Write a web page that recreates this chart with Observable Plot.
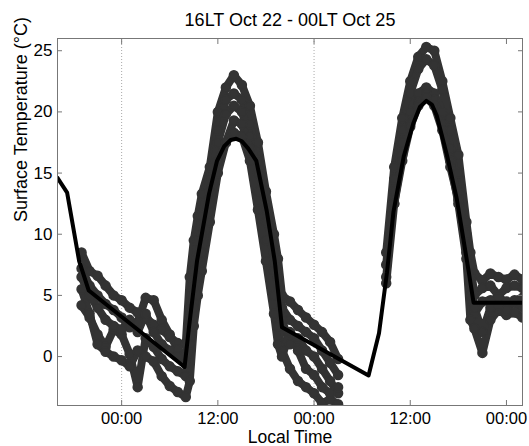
<!DOCTYPE html>
<html><head><meta charset="utf-8">
<script src="https://cdn.jsdelivr.net/npm/d3@7"></script>
<script src="https://cdn.jsdelivr.net/npm/@observablehq/plot@0.6"></script>
<style>
html,body{margin:0;padding:0;background:#fff;}
#chart svg{display:block;}
</style></head><body><div id="chart"></div>
<script>
const title = "16LT Oct 22 - 00LT Oct 25";
const xLabel = "Local Time";
const yLabel = "Surface Temperature (°C)";
const xTicks = [0, 12, 24, 36, 48];
const xTickLabels = ["00:00", "12:00", "00:00", "12:00", "00:00"];
const yTicks = [0, 5, 10, 15, 20, 25];
const midnightGrid = [0, 24];

// model (black line): hours relative to 00LT Oct 23
const modelHours = [-8, -6.8, -5.3, -4.1, 7.85, 8.4, 9.4, 10.9, 11.9, 12.8, 13.6, 14.3, 15.0, 15.8, 16.8, 18.1, 19.1, 20.0, 30.8, 32.1, 33.1, 33.9, 35.2, 36.4, 37.2, 38.0, 38.7, 39.3, 40.6, 41.8, 42.9, 43.3, 43.9, 50];
const modelTemp  = [14.6, 13.4, 7.8, 5.4, -0.85, 2.4, 7.8, 13.3, 16.0, 17.2, 17.7, 17.8, 17.6, 17.0, 16.0, 11.9, 7.8, 2.4, -1.55, 1.9, 6.9, 11.8, 16.4, 19.1, 20.4, 20.9, 20.6, 19.7, 16.4, 12.9, 8.5, 6.9, 4.4, 4.4];

// observations (gray markers), several stations
const obsHours = [-5,-4,-3,-2,-1,0,1,2,3,4,5,6,7,8,8.5,9,9.5,10,11,12,13,14,15,16,17,18,19,19.5,20,21,22,23,24,25,26,27,30,33,34,35,36,37,38,39,40,41,42,43,43.5,44,45,46,47,48,49,50];
const stationA = [8.5,7.0,6.6,5.8,5.0,4.6,4.0,3.6,3.2,2.6,2.2,1.6,1.1,1.0, 6.5,9.5,11.5,13.3,15.5,20.0,22.0,23.0,22.2,20.5,17.5,13.5,10.0,8.0,5.0, 4.5,3.8,3.2,2.6,2.0,1.2,-0.2, null, 8.5,15.5,19.5,22.5,24.5,25.3,25.0,22.5,19.5,16.5,11.0, 8.5, 6.8,6.2,6.8,6.5,6.3,6.7,6.3];
const stationB = [7.2,5.8,5.0,4.3,3.8,3.2,2.4,2.8,4.8,4.6,3.0,1.8,0.6,-0.4, 4.0,7.0,9.5,11.5,14.5,18.5,21.0,21.5,21.0,19.0,16.0,12.0,8.5,6.5,4.0, 3.0,2.5,2.0,1.5,0.5,-0.5,-1.5, null, 7.5,14.5,18.5,21.5,23.5,24.3,23.8,21.8,18.5,15.0,10.0, 7.5, 5.0,5.6,5.8,5.0,5.6,5.8,5.6];
const stationC = [4.2,3.2,1.8,0.8,2.2,1.8,0.2,-2.5,1.5,0.8,-0.2,-0.8,-1.2,-1.6, 2.5,5.5,8.0,10.0,13.5,17.5,19.8,20.5,20.0,18.0,15.0,11.0,7.0,5.0,3.0, 1.0,1.5,0.5,0.0,-1.0,-2.0,-3.0, null, 6.5,13.5,17.5,20.0,21.5,22.0,21.5,20.0,17.0,13.5,9.0, 6.5, 3.5,4.5,4.6,4.8,4.5,4.4,4.0];
const stationD = [5.5,3.5,1.0,0.4,0.0,-0.3,-0.8,0.5,0.0,-0.4,-1.6,-2.4,-2.9,-3.3, -2.0,2.5,5.0,7.0,11.0,15.0,17.5,19.3,19.0,17.0,13.5,9.5,5.0,2.5,0.5, -1.0,-2.0,-2.5,-3.0,-3.8,-3.5,-3.9, null, 6.0,12.5,16.5,19.0,20.8,21.5,21.0,19.0,16.0,12.5,8.0, 3.0, 2.3,0.3,3.0,3.8,3.4,3.6,3.2];
const stationE = [6.5,5.0,4.0,3.0,2.5,2.2,3.0,2.0,3.5,2.0,1.0,0.5,0.0,-0.6, 1.0,4.0,6.5,8.5,12.5,16.0,17.5,18.3,18.0,16.0,12.0,7.8,3.5,1.0,0.0, 2.0,0.5,-1.0,-1.5,-2.5,-3.0,-2.5, null, null,12.5,16.0,18.8,20.5,21.2,20.5,18.5,15.5,12.8,8.5, 5.0, 4.0,2.0,4.0,4.2,3.8,4.6,4.8];

const stations = [["A", stationA], ["B", stationB], ["C", stationC], ["D", stationD], ["E", stationE]];
const obs = [];
for (const [name, arr] of stations) obsHours.forEach((h, i) => obs.push({h, t: arr[i], s: name}));
const obsDefined = obs.filter(d => d.t != null);
const model = modelHours.map((h, i) => ({h, t: modelTemp[i]}));

const font = "'Liberation Sans', Arial, Helvetica, sans-serif";
const axisColor = "#777";

const chart = Plot.plot({
  width: 529, height: 446,
  marginLeft: 57, marginRight: 7, marginTop: 38, marginBottom: 41,
  style: {fontFamily: font, fontSize: "17px", color: "#000", background: "#fff"},
  x: {domain: [-8, 50], label: null},
  y: {domain: [-4, 26], label: null},
  marks: [
    Plot.ruleX(midnightGrid, {stroke: "#aaa", strokeDasharray: "1,2", strokeWidth: 1}),
    Plot.line(obs, {x: "h", y: "t", z: "s", stroke: "#333", strokeWidth: 8, strokeLinejoin: "round", strokeLinecap: "round", clip: true}),
    Plot.dot(obsDefined, {x: "h", y: "t", r: 4.5, fill: "#333", stroke: "#333", clip: true}),
    Plot.line(model, {x: "h", y: "t", stroke: "#000", strokeWidth: 4, clip: true}),
    Plot.frame({stroke: axisColor}),
    Plot.axisX(xTicks, {anchor: "bottom", tickSize: -5, tickPadding: 12, stroke: axisColor, fontSize: 16.5, label: null, tickFormat: d => xTickLabels[xTicks.indexOf(d)]}),
    Plot.axisX(xTicks, {anchor: "top", tickSize: -5, stroke: axisColor, label: null, tickFormat: () => ""}),
    Plot.axisY(yTicks, {anchor: "left", tickSize: -5, tickPadding: 10, stroke: axisColor, fontSize: 17, label: null}),
    Plot.axisY(yTicks, {anchor: "right", tickSize: -5, stroke: axisColor, label: null, tickFormat: () => ""}),
    Plot.text([title], {frameAnchor: "top", dy: -13, lineAnchor: "bottom", fontSize: 18, fill: "#000"}),
    Plot.text([xLabel], {frameAnchor: "bottom", dy: 32, lineAnchor: "middle", fontSize: 17.5, fill: "#000"}),
    Plot.text([yLabel], {frameAnchor: "left", rotate: -90, dx: -36, lineAnchor: "middle", fontSize: 18, fill: "#000"})
  ]
});
document.getElementById("chart").appendChild(chart);
</script>
</body></html>
